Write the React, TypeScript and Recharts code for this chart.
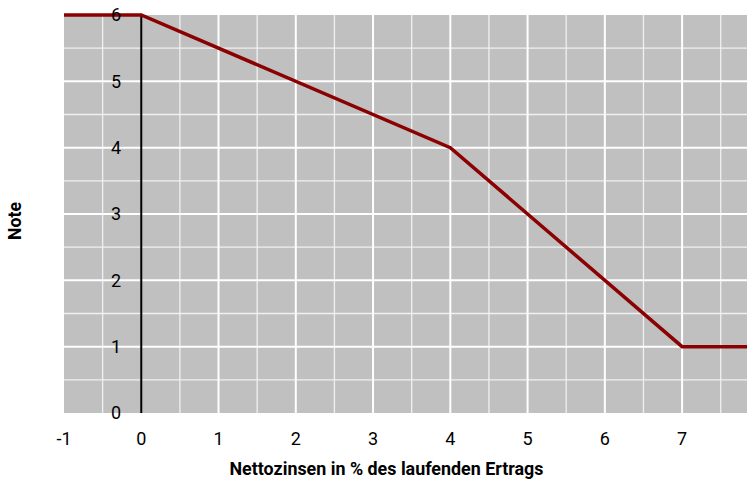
import {
  LineChart,
  Line,
  XAxis,
  YAxis,
  CartesianGrid,
  ReferenceLine,
  Label,
} from "recharts";

const FONT = "Roboto, 'Noto Sans', Arial, sans-serif";

// Kurvenpunkte: Nettozinsen (x) -> Note (y)
const zinsen = [-1, 0, 4, 7, 7.84];
const noten = [6, 6, 4, 1, 1];

const xTicks = [-1, 0, 1, 2, 3, 4, 5, 6, 7];
const yTicks = [0, 1, 2, 3, 4, 5, 6];

const xMajorGrid = [1, 2, 3, 4, 5, 6, 7];
const xMinorGrid = [-0.5, 0.5, 1.5, 2.5, 3.5, 4.5, 5.5, 6.5, 7.5];
const yMajorGrid = [1, 2, 3, 4, 5];
const yMinorGrid = [0.5, 1.5, 2.5, 3.5, 4.5, 5.5];

const data = zinsen.map((x, i) => ({ x, note: noten[i] }));

const YTick = ({ x, y, payload }: any) => (
  <text
    x={x + 57}
    y={y}
    dy="0.36em"
    textAnchor="end"
    fill="#000"
    fontSize={18}
    fontFamily={FONT}
  >
    {payload.value}
  </text>
);

// schmale, fette Achsentitel (wie Arial Narrow)
const axisTitle =
  (text: string, len: number, dx: number, dy: number, rotate: boolean) =>
  (props: any) => {
    const vb = props.viewBox || {};
    const cx = vb.x + vb.width / 2 + dx;
    const cy = vb.y + vb.height / 2 + dy;
    return (
      <text
        x={cx}
        y={cy}
        dy="0.36em"
        textAnchor="middle"
        fill="#000"
        fontSize={19}
        fontWeight="bold"
        fontFamily={FONT}
        textLength={len}
        lengthAdjust="spacingAndGlyphs"
        transform={rotate ? `rotate(-90 ${cx} ${cy})` : undefined}
      >
        {text}
      </text>
    );
  };

export default function App() {
  return (
    <div style={{ position: "absolute", left: 0, top: 0 }}>
      <LineChart
        width={747}
        height={481}
        data={data}
        margin={{ top: 15, right: 0, left: 0, bottom: 0 }}
      >
        <CartesianGrid
          fill="#c0c0c0"
          stroke="#f0f0f0"
          strokeWidth={1.3}
          verticalValues={xMinorGrid}
          horizontalValues={yMinorGrid}
        />
        <CartesianGrid
          stroke="#ffffff"
          strokeWidth={2}
          verticalValues={xMajorGrid}
          horizontalValues={yMajorGrid}
        />

        <XAxis
          type="number"
          dataKey="x"
          domain={[-1, 7.84]}
          ticks={xTicks}
          allowDataOverflow
          height={68}
          axisLine={false}
          tickLine={false}
          tickSize={0}
          tickMargin={19}
          tick={{ fill: "#000", fontSize: 18, fontFamily: FONT }}
        >
          <Label
            content={axisTitle(
              "Nettozinsen in % des laufenden Ertrags",
              314,
              -19,
              21,
              false
            )}
          />
        </XAxis>

        <YAxis
          type="number"
          domain={[0, 6]}
          ticks={yTicks}
          width={64}
          axisLine={false}
          tickLine={false}
          tickSize={0}
          tickMargin={0}
          tick={<YTick />}
        >
          <Label content={axisTitle("Note", 38, -17.5, 7, true)} />
        </YAxis>

        <ReferenceLine x={0} stroke="#000" strokeWidth={2} />

        <Line
          type="linear"
          dataKey="note"
          stroke="#8b0000"
          strokeWidth={3.5}
          dot={false}
          isAnimationActive={false}
        />
      </LineChart>
    </div>
  );
}
